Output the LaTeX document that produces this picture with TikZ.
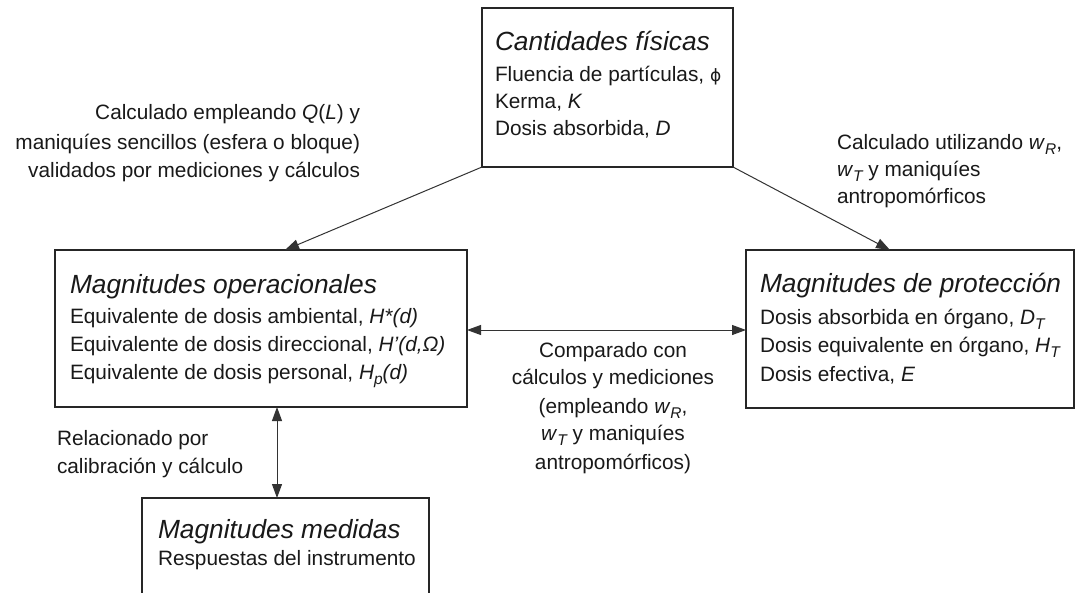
\documentclass[tikz,border=0pt]{standalone}
\usepackage{fontspec}
\setmainfont{Liberation Sans}
\newfontfamily\dejavux{DejaVu Sans}
\usetikzlibrary{arrows.meta}
\newcommand\sbx[1]{\raisebox{-5pt}{\fontsize{15.5}{16}\selectfont\itshape #1}}
\newcommand\tfontx{\fontsize{26.3}{30}\selectfont\itshape}
\newcommand\bfontx{\fontsize{20.8}{26}\selectfont}
\begin{document}
\begin{tikzpicture}[x=1pt,y=-1pt,
  >={Triangle[length=14pt,width=10pt]},
  box/.style={draw=black!85, line width=1.2pt, inner sep=0pt, outer sep=0pt},
  txt/.style={inner sep=0pt, outer sep=0pt, anchor=base west, text=black!90, font=\bfontx},
  txtr/.style={txt, anchor=base east},
  txtc/.style={txt, anchor=base},
  ttl/.style={txt, font=\tfontx},
  conn/.style={line width=1pt, draw=black!80}
]
\clip (0,0) rectangle (1075,592);
\fill[white] (0,0) rectangle (1075,592);

% boxes
\node[box, minimum width=251pt, minimum height=159pt] (cant) at (607.5,87.5) {};
\node[box, minimum width=412pt, minimum height=157pt] (op) at (261,328.5) {};
\node[box, minimum width=328pt, minimum height=158pt] (prot) at (910,329) {};
\node[box, minimum width=287pt, minimum height=110pt] (med) at (285.5,553) {};

% top box text
\node[ttl] (cant0) at (495,50) {Cantidades físicas};
\node[txt] (cant1) at (495,81) {Fluencia de partículas, {\dejavux\fontsize{17}{20}\selectfont ϕ}};
\node[txt] (cant2) at (495,108) {Kerma, \textit{K}};
\node[txt] (cant3) at (495,135) {Dosis absorbida, \textit{D}};

% left box text
\node[ttl] (op0) at (70,293) {Magnitudes operacionales};
\node[txt] (op1) at (70,323) {Equivalente de dosis ambiental, \textit{H*(d)}};
\node[txt] (op2) at (70,351) {Equivalente de dosis direccional, \textit{H’(d,Ω)}};
\node[txt] (op3) at (70,379) {Equivalente de dosis personal, \textit{H}\sbx{p}\textit{(d)}};

% right box text
\node[ttl] (prot0) at (760,292) {Magnitudes de protección};
\node[txt] (prot1) at (760,324) {Dosis absorbida en órgano, \textit{D}\sbx{T}};
\node[txt] (prot2) at (760,352) {Dosis equivalente en órgano, \textit{H}\sbx{T}};
\node[txt] (prot3) at (760,381) {Dosis efectiva, \textit{E}};

% bottom box text
\node[ttl] (med0) at (158,538) {Magnitudes medidas};
\node[txt] (med1) at (158,565) {Respuestas del instrumento};

% upper-left label
\node[txtr] (ul1) at (360,119) {Calculado empleando \textit{Q}(\textit{L}) y};
\node[txtr] (ul2) at (360,149) {maniquíes sencillos (esfera o bloque)};
\node[txtr] (ul3) at (360,177) {validados por mediciones y cálculos};

% upper-right label
\node[txt] (ur1) at (837,149) {Calculado utilizando \textit{w}\sbx{R},};
\node[txt] (ur2) at (837,176) {\textit{w}\sbx{T} y maniquíes};
\node[txt] (ur3) at (837,203) {antropomórficos};

% center label
\node[txtc] (c1) at (613,357) {Comparado con};
\node[txtc] (c2) at (613,384) {cálculos y mediciones};
\node[txtc] (c3) at (613,413) {(empleando \textit{w}\sbx{R},};
\node[txtc] (c4) at (613,440) {\textit{w}\sbx{T} y maniquíes};
\node[txtc] (c5) at (613,469) {antropomórficos)};

% bottom-left label
\node[txt] (bl1) at (57,445) {Relacionado por};
\node[txt] (bl2) at (57,473) {calibración y cálculo};

% connectors
\coordinate (vx) at (277,0);
\draw[conn, ->] (cant.south west) -- ([xshift=24pt]op.north);
\draw[conn, ->] (cant.south east) -- ([xshift=-20pt]prot.north);
\draw[conn, <->] ([yshift=-1.5pt]op.east) -- ([yshift=-1.5pt]op.east -| prot.west);
\draw[conn, <->] (op.south -| vx) -- (med.north -| vx);
\end{tikzpicture}
\end{document}
